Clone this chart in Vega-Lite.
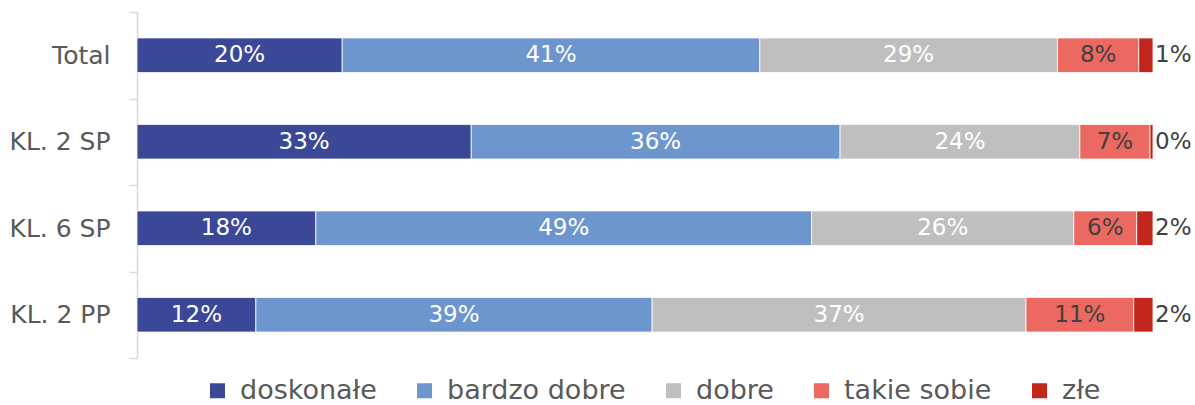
{
  "$schema": "https://vega.github.io/schema/vega-lite/v6.json",
  "width": 1016,
  "height": 346,
  "autosize": {"type": "none"},
  "padding": {"left": 137, "top": 12, "right": 42, "bottom": 47},
  "background": "white",
  "config": {"view": {"stroke": null}, "font": "DejaVu Sans"},
  "data": {
    "values": [
      {"grupa": "Total", "ocena": "doskonałe", "k": 1, "wartosc": 0.202},
      {"grupa": "Total", "ocena": "bardzo dobre", "k": 2, "wartosc": 0.411},
      {"grupa": "Total", "ocena": "dobre", "k": 3, "wartosc": 0.293},
      {"grupa": "Total", "ocena": "takie sobie", "k": 4, "wartosc": 0.080},
      {"grupa": "Total", "ocena": "złe", "k": 5, "wartosc": 0.014},
      {"grupa": "KL. 2 SP", "ocena": "doskonałe", "k": 1, "wartosc": 0.329},
      {"grupa": "KL. 2 SP", "ocena": "bardzo dobre", "k": 2, "wartosc": 0.363},
      {"grupa": "KL. 2 SP", "ocena": "dobre", "k": 3, "wartosc": 0.236},
      {"grupa": "KL. 2 SP", "ocena": "takie sobie", "k": 4, "wartosc": 0.069},
      {"grupa": "KL. 2 SP", "ocena": "złe", "k": 5, "wartosc": 0.003},
      {"grupa": "KL. 6 SP", "ocena": "doskonałe", "k": 1, "wartosc": 0.176},
      {"grupa": "KL. 6 SP", "ocena": "bardzo dobre", "k": 2, "wartosc": 0.488},
      {"grupa": "KL. 6 SP", "ocena": "dobre", "k": 3, "wartosc": 0.258},
      {"grupa": "KL. 6 SP", "ocena": "takie sobie", "k": 4, "wartosc": 0.062},
      {"grupa": "KL. 6 SP", "ocena": "złe", "k": 5, "wartosc": 0.016},
      {"grupa": "KL. 2 PP", "ocena": "doskonałe", "k": 1, "wartosc": 0.117},
      {"grupa": "KL. 2 PP", "ocena": "bardzo dobre", "k": 2, "wartosc": 0.390},
      {"grupa": "KL. 2 PP", "ocena": "dobre", "k": 3, "wartosc": 0.368},
      {"grupa": "KL. 2 PP", "ocena": "takie sobie", "k": 4, "wartosc": 0.106},
      {"grupa": "KL. 2 PP", "ocena": "złe", "k": 5, "wartosc": 0.019}
    ]
  },
  "encoding": {
    "y": {
      "field": "grupa",
      "type": "nominal",
      "sort": ["Total", "KL. 2 SP", "KL. 6 SP", "KL. 2 PP"],
      "scale": {"paddingInner": 0, "paddingOuter": 0},
      "axis": {
        "title": null,
        "tickBand": "extent",
        "domainColor": "#D9D9D9",
        "domainWidth": 1.5,
        "tickColor": "#D9D9D9",
        "tickWidth": 1.5,
        "tickSize": 8,
        "labelPadding": 19,
        "labelFontSize": 25,
        "labelColor": "#595959"
      }
    },
    "x": {
      "field": "wartosc",
      "type": "quantitative",
      "stack": "zero",
      "scale": {"domain": [0, 1]},
      "axis": null
    },
    "order": {"field": "k", "type": "quantitative"}
  },
  "layer": [
    {
      "mark": {"type": "bar", "height": {"band": 0.4}, "stroke": "white", "strokeWidth": 0.8},
      "encoding": {
        "color": {
          "field": "ocena",
          "type": "nominal",
          "sort": ["doskonałe", "bardzo dobre", "dobre", "takie sobie", "złe"],
          "scale": {
            "domain": ["doskonałe", "bardzo dobre", "dobre", "takie sobie", "złe"],
            "range": ["#3B4898", "#6D96CF", "#BFBFBF", "#EB6961", "#C3261C"]
          },
          "legend": {
            "orient": "none",
            "legendX": 67,
            "legendY": 365,
            "direction": "horizontal",
            "title": null,
            "symbolType": "square",
            "symbolSize": 225,
            "symbolStrokeWidth": 0,
            "labelFontSize": 27,
            "labelColor": "#595959",
            "labelLimit": 400,
            "columnPadding": 34,
            "labelOffset": 9
          }
        }
      }
    },
    {
      "mark": {"type": "text", "fontSize": 23},
      "encoding": {
        "x": {"field": "wartosc", "type": "quantitative", "stack": "zero", "bandPosition": 0.5},
        "detail": {"field": "ocena"},
        "text": {"field": "wartosc", "type": "quantitative", "format": ".0%"},
        "color": {"condition": {"test": "datum.ocena === 'takie sobie'", "value": "#404040"}, "value": "white"},
        "opacity": {"condition": {"test": "datum.ocena === 'złe'", "value": 0}, "value": 1}
      }
    },
    {
      "mark": {"type": "text", "fontSize": 23, "align": "left", "dx": 2, "color": "#404040"},
      "encoding": {
        "detail": {"field": "ocena"},
        "text": {"field": "wartosc", "type": "quantitative", "format": ".0%"},
        "opacity": {"condition": {"test": "datum.ocena === 'złe'", "value": 1}, "value": 0}
      }
    }
  ]
}
